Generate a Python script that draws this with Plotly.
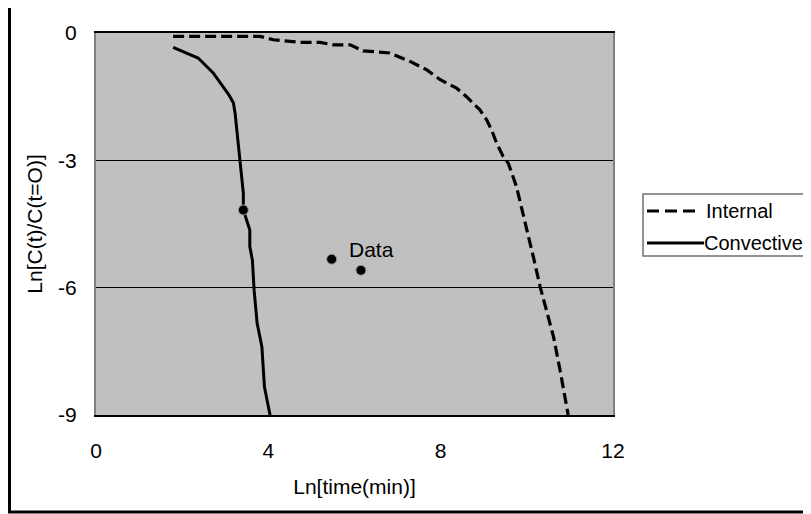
import plotly.graph_objects as go

# ---- data ----
conv_x = [1.79, 2.37, 2.72, 2.95, 3.08, 3.19, 3.23, 3.26, 3.29, 3.34, 3.37, 3.38, 3.42, 3.42,
          3.57, 3.57, 3.63, 3.67, 3.74, 3.85, 3.91, 4.04]
conv_y = [-0.34, -0.59, -0.94, -1.26, -1.45, -1.65, -1.9, -2.2, -2.5, -2.83, -3.15, -3.38, -3.78, -4.17,
          -4.64, -5.03, -5.35, -6.06, -6.84, -7.39, -8.34, -9.0]

int_x = [1.79, 2.5, 3.2, 3.81, 4.12, 4.74, 5.2, 5.51, 5.9, 6.2, 6.82, 7.29, 7.68, 7.99,
         8.37, 8.6, 8.91, 9.07, 9.18, 9.3, 9.45, 9.57, 9.76, 9.99, 10.15, 10.31, 10.46,
         10.62, 10.77, 10.96]
int_y = [-0.08, -0.08, -0.08, -0.08, -0.16, -0.22, -0.22, -0.28, -0.28, -0.42, -0.47, -0.67,
         -0.87, -1.1, -1.3, -1.5, -1.81, -2.05, -2.28, -2.6, -2.91, -3.07, -3.62, -4.56,
         -5.27, -5.98, -6.53, -7.16, -7.94, -9.0]

data_x = [3.42, 5.47, 6.15]
data_y = [-4.17, -5.33, -5.59]

x_ticks = [0, 4, 8, 12]
y_ticks = [0, -3, -6, -9]
y_ticktext = ["0", "-3", "-6", "-9"]

FONT = "Liberation Sans, Arial, sans-serif"
FS = 21

# page offset (body margin) and plot-area geometry in screen pixels
OFF = 8
W, H = 811 - OFF, 514 - OFF
SL, SR, ST, SB = 96, 613, 33, 415


def px(xs):
    return (xs - SL) / (SR - SL)


def py(ys):
    return (SB - ys) / (SB - ST)


fig = go.Figure()
fig.add_trace(go.Scatter(x=int_x, y=int_y, mode="lines", name="Internal",
                         line=dict(color="black", width=3.2, dash="11px,5px"),
                         showlegend=False))
fig.add_trace(go.Scatter(x=conv_x, y=conv_y, mode="lines", name="Convective",
                         line=dict(color="black", width=3), showlegend=False))
fig.add_trace(go.Scatter(x=data_x, y=data_y, mode="markers", name="Data",
                         marker=dict(color="black", size=10,
                                     line=dict(color="#9a9a9a", width=1)),
                         showlegend=False))

shapes = [
    # outer frame
    dict(type="rect", xref="paper", yref="paper", x0=px(9.5), x1=px(830), y0=py(512), y1=py(5.5),
         line=dict(color="black", width=3), layer="below"),
    # legend box
    dict(type="rect", xref="paper", yref="paper", x0=px(643), x1=px(830), y0=py(256), y1=py(194),
         line=dict(color="#707070", width=1.5), fillcolor="white"),
    # legend keys
    dict(type="line", xref="paper", yref="paper", x0=px(647), x1=px(698), y0=py(211), y1=py(211),
         line=dict(color="black", width=3, dash="12px,6px")),
    dict(type="line", xref="paper", yref="paper", x0=px(647), x1=px(704), y0=py(243), y1=py(243),
         line=dict(color="black", width=3)),
]

annotations = [
    dict(text="Internal", xref="paper", yref="paper", x=px(704), y=py(211),
         xanchor="left", yanchor="middle", showarrow=False,
         font=dict(size=20, family=FONT, color="black")),
    dict(text="Convective", xref="paper", yref="paper", x=px(702), y=py(243),
         xanchor="left", yanchor="middle", showarrow=False,
         font=dict(size=20, family=FONT, color="black")),
    dict(text="Data", xref="x", yref="y", x=6.4, y=-5.1, showarrow=False,
         font=dict(size=FS, family=FONT, color="black")),
]

fig.update_layout(
    width=W, height=H,
    margin=dict(l=SL - OFF, r=W - (SR - OFF), t=ST - OFF, b=H - (SB - OFF), pad=0),
    paper_bgcolor="white", plot_bgcolor="#c0c0c0",
    font=dict(family=FONT, size=FS, color="black"),
    shapes=shapes, annotations=annotations, showlegend=False,
)
fig.update_xaxes(range=[0, 12], tickvals=x_ticks, showgrid=False, zeroline=False,
                 showline=True, linecolor="black", linewidth=2, mirror=True,
                 ticks="", ticklabelstandoff=16,
                 title=dict(text="Ln[time(min)]", standoff=18, font=dict(size=FS)))
fig.update_yaxes(range=[-9, 0], tickvals=y_ticks, ticktext=y_ticktext,
                 showgrid=True, gridcolor="black", gridwidth=1, zeroline=False,
                 showline=True, linecolor="#808080", linewidth=2, mirror=True,
                 ticks="", ticklabelstandoff=13,
                 title=dict(text="Ln[C(t)/C(t=O)]", standoff=10, font=dict(size=FS)))

fig.write_html("out.html")
